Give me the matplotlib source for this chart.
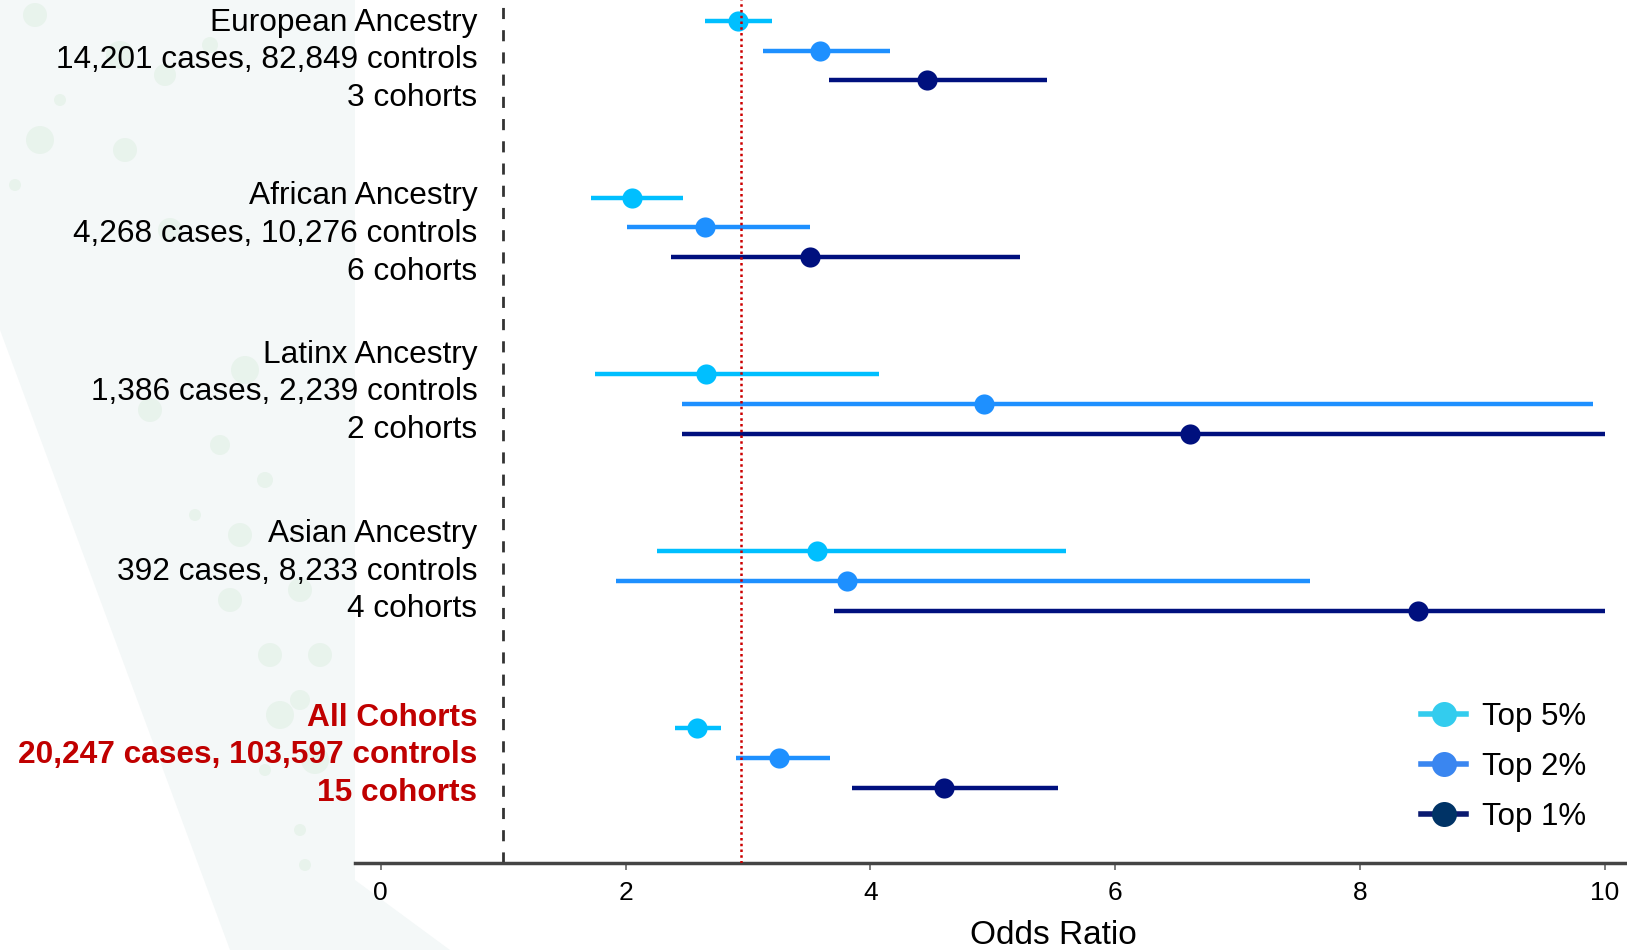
import matplotlib
matplotlib.use("Agg")
import matplotlib.pyplot as plt
from matplotlib.lines import Line2D
from matplotlib.patches import Polygon, Ellipse

# ---------------- data ----------------
groups = ["European Ancestry", "African Ancestry", "Latinx Ancestry", "Asian Ancestry", "All Cohorts"]
group_details = ["14,201 cases, 82,849 controls", "4,268 cases, 10,276 controls",
                 "1,386 cases, 2,239 controls", "392 cases, 8,233 controls",
                 "20,247 cases, 103,597 controls"]
group_cohorts = ["3 cohorts", "6 cohorts", "2 cohorts", "4 cohorts", "15 cohorts"]

series = ["Top 5%", "Top 2%", "Top 1%"]
# odds ratio estimates per group for each series
or_top5 = [2.92, 2.05, 2.66, 3.56, 2.58]
lo_top5 = [2.65, 1.72, 1.75, 2.26, 2.40]
hi_top5 = [3.20, 2.47, 4.07, 5.60, 2.78]

or_top2 = [3.59, 2.65, 4.93, 3.81, 3.25]
lo_top2 = [3.12, 2.01, 2.46, 1.92, 2.90]
hi_top2 = [4.16, 3.51, 9.90, 7.59, 3.67]

or_top1 = [4.46, 3.51, 6.61, 8.47, 4.60]
lo_top1 = [3.66, 2.37, 2.46, 3.70, 3.85]
hi_top1 = [5.44, 5.22, 10.0, 10.0, 5.53]

null_or = 1.0
overall_ref_or = 2.94
x_ticks = [0, 2, 4, 6, 8, 10]

# ---------------- style ----------------
W, H = 1627, 950
DPI = 100
fig = plt.figure(figsize=(W / DPI, H / DPI), dpi=DPI)
fig.patch.set_facecolor("white")


def fx(px):
    return px / W


def fy(py):
    return 1 - py / H


# pale decorative band on the left (background texture)
band = [(0, 0), (355, 0), (355, 880), (450, 950), (230, 950), (0, 330)]
fig.add_artist(Polygon([(fx(a), fy(b)) for a, b in band], closed=True,
                       transform=fig.transFigure, facecolor="#f4f8f8",
                       edgecolor="none", zorder=-10))
deco = [(35, 15, 12), (120, 55, 14), (40, 140, 14), (125, 150, 12), (165, 75, 11),
        (210, 45, 8), (60, 100, 6), (15, 185, 6), (170, 230, 12), (150, 410, 12),
        (220, 445, 10), (245, 370, 14), (265, 480, 8), (240, 535, 12), (300, 590, 12),
        (230, 600, 12), (270, 655, 12), (320, 655, 12), (300, 700, 10), (280, 715, 14),
        (315, 760, 14), (265, 770, 6), (300, 830, 6), (305, 865, 6), (195, 515, 6)]
for cx, cy, r in deco:
    fig.add_artist(Ellipse((fx(cx), fy(cy)), 2 * r / W, 2 * r / H,
                           transform=fig.transFigure, facecolor="#e8f3ec",
                           edgecolor="none", zorder=-9))

ax_left, ax_right = 355 / W, 1.0
ax_bottom, ax_top = 1 - 863 / H, 1.0
ax = fig.add_axes([ax_left, ax_bottom, ax_right - ax_left, ax_top - ax_bottom])
ax.set_facecolor("white")

point_colors = ["#00BFFF", "#1E90FF", "#00107E"]
legend_line_colors = ["#33CCEE", "#3A86F0", "#0A1A70"]
legend_marker_colors = ["#33CCEE", "#3A86F0", "#003366"]

group_step = 5.94
label_offsets = [0.33, 0.22, -0.40, -0.31, -0.09]

ors = [or_top5, or_top2, or_top1]
los = [lo_top5, lo_top2, lo_top1]
his = [hi_top5, hi_top2, hi_top1]

for s in range(3):
    for g in range(len(groups)):
        y = g * group_step + s
        ax.plot([los[s][g], his[s][g]], [y, y], color=point_colors[s], lw=3.2,
                solid_capstyle="butt", zorder=3)
        ax.plot(ors[s][g], y, "o", color=point_colors[s], markersize=14.5,
                markeredgewidth=0, zorder=4)

ax.set_xlim(-0.21, 10.18)
ax.set_ylim(28.29, -0.70)

ax.axvline(null_or, color="#333333", lw=2, linestyle=(0, (4, 4)), zorder=2)
ax.axvline(overall_ref_or, color="#CC0000", lw=1.8, linestyle=(0, (1, 1.3)), zorder=5)

# group labels
for g in range(len(groups)):
    yc = g * group_step + 1 + label_offsets[g]
    txt = f"{groups[g]}\n{group_details[g]}\n{group_cohorts[g]}"
    bold = g == len(groups) - 1
    ax.text(0.79, yc, txt, ha="right", va="center", fontsize=22.8,
            color="#C00000" if bold else "black",
            fontweight="bold" if bold else "normal",
            family="Liberation Sans", linespacing=1.33, clip_on=False)

# axes styling
for sp in ["top", "right", "left"]:
    ax.spines[sp].set_visible(False)
ax.spines["bottom"].set_color("#444444")
ax.spines["bottom"].set_linewidth(2.5)
ax.set_yticks([])
ax.set_xticks(x_ticks)
ax.set_xticklabels([str(t) for t in x_ticks], family="Liberation Sans", fontsize=19)
ax.tick_params(axis="x", length=5, width=1.2, color="#666666", pad=8)
ax.set_xlabel("Odds Ratio", family="Liberation Sans", fontsize=24)
ax.xaxis.set_label_coords(0.549, -0.066)

handles = [Line2D([0], [0], color=legend_line_colors[i], lw=4, marker="o",
                  markersize=18, markerfacecolor=legend_marker_colors[i],
                  markeredgewidth=0) for i in range(3)]
ax.legend(handles, series, loc="center left",
          bbox_to_anchor=(fx(1421), fy(767)), bbox_transform=fig.transFigure,
          frameon=False, prop={"family": "Liberation Sans", "size": 22.5},
          handlelength=1.44, handletextpad=0.5, labelspacing=0.63,
          borderpad=0, borderaxespad=0)

fig.savefig("out.png", dpi=DPI, facecolor=fig.get_facecolor())
